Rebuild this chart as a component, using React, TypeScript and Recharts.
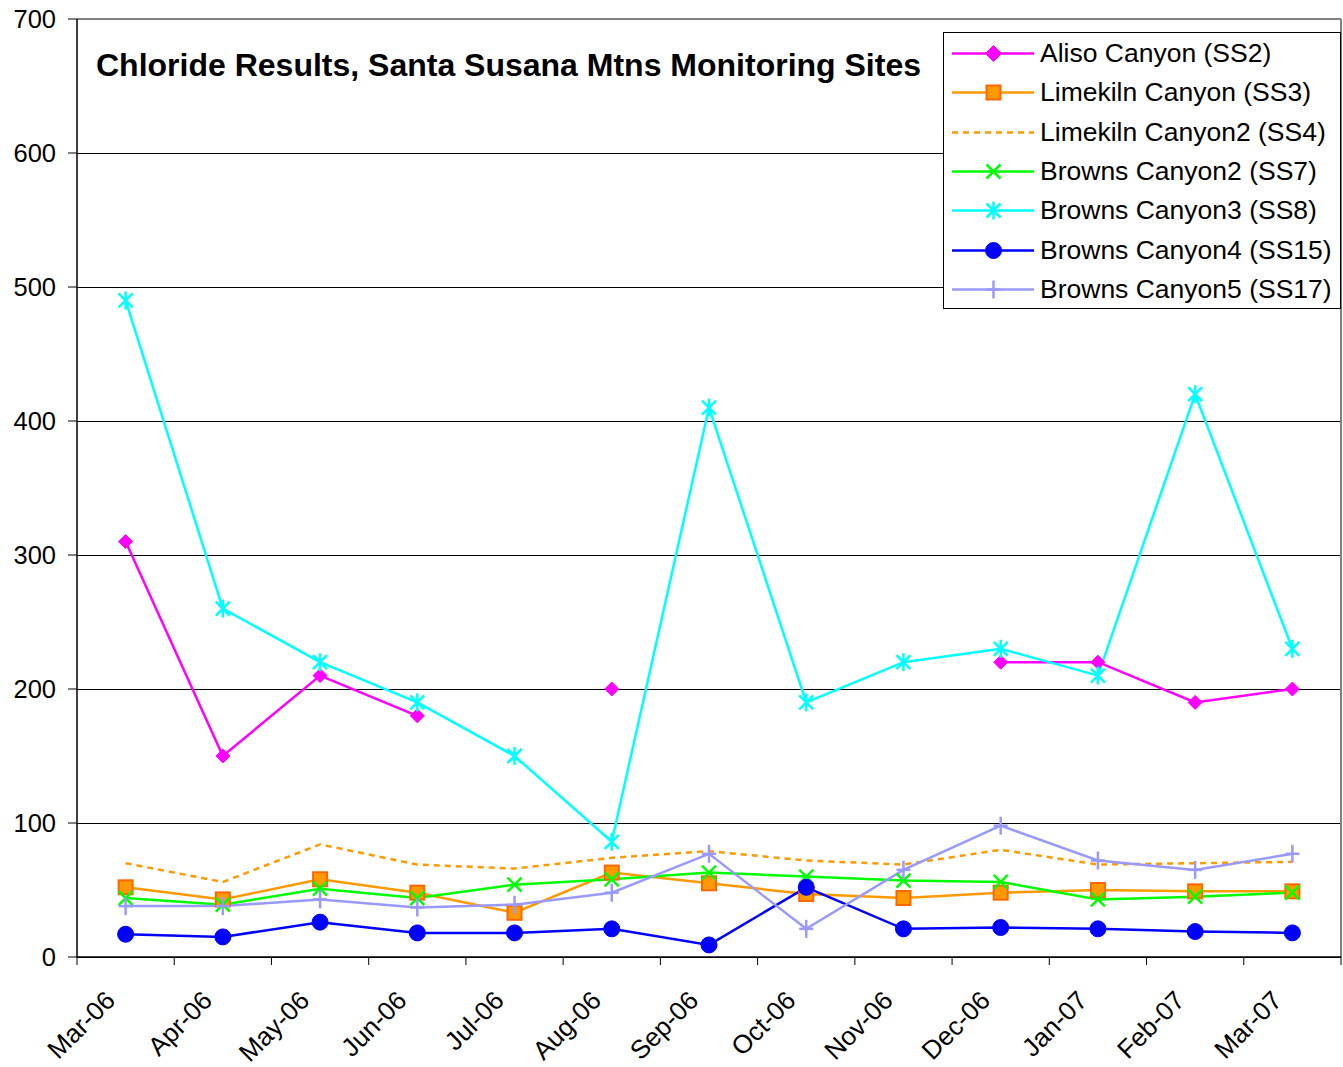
import React from 'react';
import { LineChart, Line, XAxis, YAxis, CartesianGrid, ReferenceLine, Legend } from 'recharts';

const MONTHS = ['Mar-06', 'Apr-06', 'May-06', 'Jun-06', 'Jul-06', 'Aug-06', 'Sep-06', 'Oct-06', 'Nov-06', 'Dec-06', 'Jan-07', 'Feb-07', 'Mar-07'];
const Y_TICKS = [0, 100, 200, 300, 400, 500, 600, 700];

const ALISO_SS2 = [310, 150, 210, 180, null, 200, null, null, null, 220, 220, 190, 200];
const LIMEKILN_SS3 = [52, 43, 58, 48, 33, 63, 55, 47, 44, 48, 50, 49, 49];
const LIMEKILN2_SS4 = [70, 56, 84, 69, 66, 74, 79, 72, 69, 80, 69, 70, 71];
const BROWNS2_SS7 = [44, 39, 51, 44, 54, 58, 63, 60, 57, 56, 43, 45, 48];
const BROWNS3_SS8 = [490, 260, 220, 190, 150, 86, 410, 190, 220, 230, 210, 420, 230];
const BROWNS4_SS15 = [17, 15, 26, 18, 18, 21, 9, 52, 21, 22, 21, 19, 18];
const BROWNS5_SS17 = [38, 38, 43, 37, 39, 48, 77, 21, 65, 98, 72, 65, 77];

const TITLE = 'Chloride Results, Santa Susana Mtns Monitoring Sites';

type Shape = 'diamond' | 'square' | 'none' | 'x' | 'asterisk' | 'circle' | 'plus';
const SERIES: { key: string; name: string; values: (number | null)[]; color: string; shape: Shape; dash?: string }[] = [
  { key: 'ss2', name: 'Aliso Canyon (SS2)', values: ALISO_SS2, color: '#FF00FF', shape: 'diamond' },
  { key: 'ss3', name: 'Limekiln Canyon (SS3)', values: LIMEKILN_SS3, color: '#FF9900', shape: 'square' },
  { key: 'ss4', name: 'Limekiln Canyon2 (SS4)', values: LIMEKILN2_SS4, color: '#FF9900', shape: 'none', dash: '6 5' },
  { key: 'ss7', name: 'Browns Canyon2 (SS7)', values: BROWNS2_SS7, color: '#00FF00', shape: 'x' },
  { key: 'ss8', name: 'Browns Canyon3 (SS8)', values: BROWNS3_SS8, color: '#00FFFF', shape: 'asterisk' },
  { key: 'ss15', name: 'Browns Canyon4 (SS15)', values: BROWNS4_SS15, color: '#0000FF', shape: 'circle' },
  { key: 'ss17', name: 'Browns Canyon5 (SS17)', values: BROWNS5_SS17, color: '#9999FF', shape: 'plus' },
];

const DATA = MONTHS.map((m, i) => {
  const row: Record<string, any> = { x: i + 0.5, month: m };
  SERIES.forEach((s) => { row[s.key] = s.values[i]; });
  return row;
});

const W = 1343;
const H = 1067;
const PLOT_LEFT = 77;
const PLOT_RIGHT = 1341;
const PLOT_TOP = 19;
const PLOT_BOTTOM = 957;
const BAND = (PLOT_RIGHT - PLOT_LEFT) / MONTHS.length;
const FONT = '"Liberation Sans", Arial, sans-serif';

function Marker({ shape, color, cx, cy, big }: { shape: Shape; color: string; cx: number; cy: number; big?: boolean }) {
  const sw = 2.5;
  const d = big ? 8 : 7;
  switch (shape) {
    case 'diamond':
      return <polygon points={`${cx},${cy - d} ${cx + d},${cy} ${cx},${cy + d} ${cx - d},${cy}`} fill={color} stroke={color} strokeWidth={1} />;
    case 'square':
      return <rect x={cx - 7} y={cy - 7} width={14} height={14} fill="#FF9900" stroke="#FF6600" strokeWidth={2} />;
    case 'x':
      return (
        <g stroke={color} strokeWidth={sw}>
          <line x1={cx - 7} y1={cy - 7} x2={cx + 7} y2={cy + 7} />
          <line x1={cx - 7} y1={cy + 7} x2={cx + 7} y2={cy - 7} />
        </g>
      );
    case 'asterisk':
      return (
        <g stroke={color} strokeWidth={sw}>
          <line x1={cx - 7} y1={cy - 7} x2={cx + 7} y2={cy + 7} />
          <line x1={cx - 7} y1={cy + 7} x2={cx + 7} y2={cy - 7} />
          <line x1={cx} y1={cy - 9} x2={cx} y2={cy + 9} />
        </g>
      );
    case 'circle':
      return <circle cx={cx} cy={cy} r={8} fill={color} stroke={color} strokeWidth={1} />;
    case 'plus':
      return (
        <g stroke={color} strokeWidth={sw}>
          <line x1={cx - 7} y1={cy} x2={cx + 7} y2={cy} />
          <line x1={cx} y1={cy - 9} x2={cx} y2={cy + 9} />
        </g>
      );
    default:
      return null;
  }
}

function makeDot(shape: Shape, color: string) {
  return (p: any) => {
    const key = `${shape}-${p.index}`;
    if (shape === 'none' || p.cy == null || p.value == null || Number.isNaN(p.cy)) return <g key={key} />;
    return <g key={key}><Marker shape={shape} color={color} cx={p.cx} cy={p.cy} /></g>;
  };
}

function XTick(props: any) {
  const { x, payload } = props;
  const v = payload.value;
  if (v >= MONTHS.length) return <g />;
  const cx = x + BAND / 2 - 9;
  const cy = PLOT_BOTTOM + 45;
  return (
    <text x={cx} y={cy} transform={`rotate(-45 ${cx} ${cy})`} textAnchor="end" fontSize={26} fill="#000" fontFamily={FONT}>
      {MONTHS[v]}
    </text>
  );
}

function LegendBox() {
  return (
    <div style={{ width: 396, height: 274, border: '1px solid #000', background: '#fff', paddingTop: 1, boxSizing: 'content-box' }}>
      {SERIES.map((s) => (
        <div key={s.key} style={{ height: 39.3, display: 'flex', alignItems: 'center' }}>
          <svg width={96} height={39} style={{ display: 'block', flex: 'none' }}>
            <line x1={8} y1={19.5} x2={90} y2={19.5} stroke={s.color} strokeWidth={2.5} strokeDasharray={s.dash} />
            <Marker shape={s.shape} color={s.color} cx={49.5} cy={19.5} big />
          </svg>
          <span style={{ fontFamily: FONT, fontSize: 26.5, color: '#000', whiteSpace: 'nowrap', lineHeight: '39px' }}>{s.name}</span>
        </div>
      ))}
    </div>
  );
}

export default function App() {
  return (
    <div style={{ position: 'absolute', left: 0, top: 0, width: W, height: H, background: '#fff' }}>
      <LineChart
        width={W}
        height={H}
        data={DATA}
        margin={{ top: PLOT_TOP, right: W - PLOT_RIGHT, bottom: 0, left: 0 }}
        style={{ fontFamily: FONT }}
      >
        <CartesianGrid horizontal vertical={false} stroke="#000" strokeWidth={1} shapeRendering="crispEdges" />
        <XAxis
          dataKey="x"
          type="number"
          domain={[0, MONTHS.length]}
          ticks={MONTHS.map((_, i) => i).concat([MONTHS.length])}
          interval={0}
          tickSize={8}
          axisLine={{ stroke: '#000', strokeWidth: 1.5 }}
          tickLine={{ stroke: '#000', strokeWidth: 1 }}
          tick={<XTick />}
          height={H - PLOT_BOTTOM}
        />
        <YAxis
          type="number"
          domain={[0, 700]}
          ticks={Y_TICKS}
          interval={0}
          width={PLOT_LEFT}
          tickSize={9}
          tickMargin={12}
          axisLine={{ stroke: '#000', strokeWidth: 1.5 }}
          tickLine={{ stroke: '#000', strokeWidth: 1 }}
          tick={{ fontSize: 25.5, fill: '#000', fontFamily: FONT }}
        />
        <ReferenceLine y={700} stroke="#808080" strokeWidth={2} />
        <ReferenceLine x={MONTHS.length} stroke="#808080" strokeWidth={2} />
        {SERIES.map((s) => (
          <Line
            key={s.key}
            dataKey={s.key}
            name={s.name}
            type="linear"
            stroke={s.color}
            strokeWidth={2.5}
            strokeDasharray={s.dash}
            dot={makeDot(s.shape, s.color)}
            activeDot={false}
            connectNulls={false}
            isAnimationActive={false}
          />
        ))}
        <Legend
          layout="horizontal"
          verticalAlign="middle"
          align="center"
          content={() => <LegendBox />}
          wrapperStyle={{ position: 'absolute', left: 943, top: 32, width: 398, height: 276 }}
        />
      </LineChart>
      <svg width={W} height={120} style={{ position: 'absolute', left: 0, top: 0, pointerEvents: 'none' }}>
        <text x={96} y={76} fontFamily={FONT} fontWeight="bold" fontSize={32} fill="#000">{TITLE}</text>
      </svg>
    </div>
  );
}
